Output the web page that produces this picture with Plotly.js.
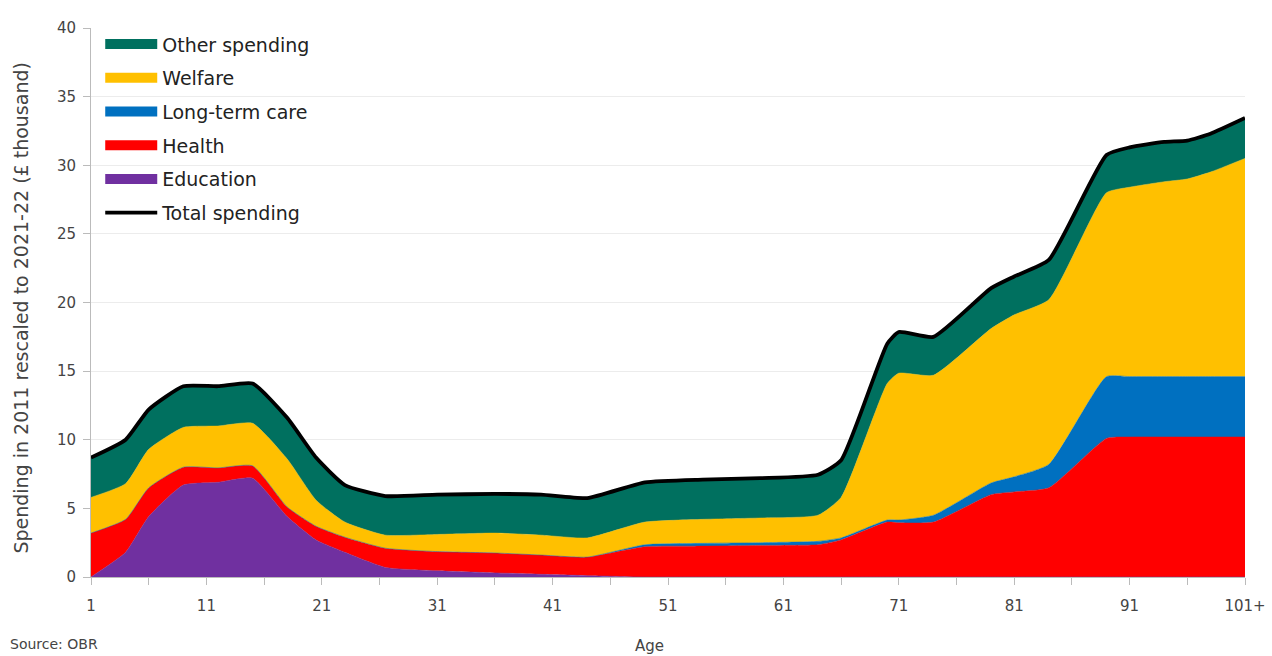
<!DOCTYPE html>
<html>
<head>
<meta charset="utf-8">
<script src="https://cdn.plot.ly/plotly-3.0.1.min.js"></script>
<style>html,body{margin:0;padding:0;background:#fff;}#chart{width:1272px;height:656px;}</style>
</head>
<body>
<div id="chart"></div>
<script>
const ages = [1, 4, 6, 9, 12, 15, 18, 20.5, 23, 26.5, 31, 36, 40, 44, 49, 54, 59, 64, 66, 70, 71, 74, 79, 81, 84, 89, 91, 94, 96, 98, 101];
const education = [0, 1.8, 4.4, 6.7, 6.9, 7.2, 4.4, 2.7, 1.8, 0.7, 0.45, 0.3, 0.2, 0.1, 0, 0, 0, 0, 0, 0, 0, 0, 0, 0, 0, 0, 0, 0, 0, 0, 0];
const health = [3.2, 2.4, 2.1, 1.3, 1.05, 0.9, 0.7, 1.0, 1.1, 1.4, 1.4, 1.45, 1.4, 1.35, 2.2, 2.25, 2.3, 2.35, 2.7, 4.0, 3.95, 4.0, 6.0, 6.2, 6.5, 10.1, 10.2, 10.2, 10.2, 10.2, 10.2];
const longTermCare = [0, 0, 0, 0, 0, 0, 0, 0, 0, 0, 0, 0, 0, 0, 0.15, 0.2, 0.2, 0.25, 0.15, 0.15, 0.2, 0.5, 0.85, 1.1, 1.7, 4.5, 4.4, 4.4, 4.4, 4.4, 4.4];
const welfare = [2.6, 2.6, 2.8, 2.9, 3.05, 3.1, 3.5, 1.9, 1.1, 0.95, 1.25, 1.45, 1.45, 1.4, 1.65, 1.75, 1.8, 1.9, 2.95, 9.95, 10.7, 10.2, 11.25, 11.8, 12.0, 13.4, 13.8, 14.2, 14.4, 14.9, 15.9];
const otherSpending = [2.9, 3.2, 2.9, 3.0, 2.9, 2.9, 3.0, 3.1, 2.7, 2.85, 2.9, 2.85, 2.95, 2.9, 2.9, 2.9, 2.9, 2.95, 2.7, 2.9, 3.0, 2.8, 2.95, 2.8, 2.9, 2.75, 2.9, 2.9, 2.8, 2.8, 2.95];
const totalSpending = [8.7, 10.0, 12.2, 13.9, 13.9, 14.1, 11.6, 8.7, 6.7, 5.9, 6.0, 6.05, 6.0, 5.75, 6.9, 7.1, 7.2, 7.45, 8.5, 17.0, 17.85, 17.5, 21.05, 21.9, 23.1, 30.75, 31.3, 31.7, 31.8, 32.3, 33.45];
const xTickVals = [1, 11, 21, 31, 41, 51, 61, 71, 81, 91, 101];
const xTickText = ["1", "11", "21", "31", "41", "51", "61", "71", "81", "91", "101+"];
const seriesNames = ['Education', 'Health', 'Long-term care', 'Welfare', 'Other spending'];
const seriesColors = ['#7030A0', '#FF0000', '#0070C0', '#FFC000', '#00705F'];
const legendRanks = [5, 4, 3, 2, 1];

const sm = 0.5;
const seriesData = [education, health, longTermCare, welfare, otherSpending];
const traces = [];
seriesData.forEach((y, i) => {
  traces.push({
    x: ages, y: y, name: seriesNames[i], type: 'scatter', mode: 'lines',
    stackgroup: 'one', fillcolor: seriesColors[i],
    line: {color: seriesColors[i], width: 0.5, shape: 'spline', smoothing: sm},
    showlegend: false, hoverinfo: 'skip'
  });
});
// legend-only entries (no data drawn) so that swatches are thick bars
seriesData.forEach((y, i) => {
  traces.push({
    x: [null], y: [null], name: seriesNames[i], type: 'scatter', mode: 'lines',
    line: {color: seriesColors[i], width: 10}, legendrank: legendRanks[i],
    legendgroup: 'g' + i, hoverinfo: 'skip'
  });
});
traces.push({x: ages, y: totalSpending, name: 'Total spending', type: 'scatter', mode: 'lines',
   line: {color: '#000000', width: 3.8, shape: 'spline', smoothing: sm}, legendrank: 6,
   legendgroup: 'gt', hoverinfo: 'skip'});

const layout = {
  width: 1272, height: 656,
  margin: {l: 91, r: 27, t: 28, b: 79},
  paper_bgcolor: '#ffffff', plot_bgcolor: '#ffffff',
  font: {family: '"DejaVu Sans", sans-serif', color: '#333'},
  showlegend: true,
  legend: {x: 0.008, y: 1.005, xanchor: 'left', yanchor: 'top', traceorder: 'grouped',
           font: {size: 19, color: '#222'}, bgcolor: 'rgba(0,0,0,0)', tracegroupgap: 6, itemwidth: 52},
  xaxis: {
    range: [1, 101], tickvals: xTickVals, ticktext: xTickText,
    showgrid: false, zeroline: false, showline: true, linecolor: '#bbbbbb', linewidth: 1,
    ticks: 'outside', ticklen: 7, tickcolor: '#bbbbbb', ticklabelstandoff: 8,
    minor: {tickvals: [6, 16, 26, 36, 46, 56, 66, 76, 86, 96], ticks: 'outside', ticklen: 7, tickcolor: '#bbbbbb'},
    tickfont: {size: 15, color: '#444'}
  },
  yaxis: {
    range: [0, 40], dtick: 5, tick0: 0,
    showgrid: true, gridcolor: '#ececec', gridwidth: 1, zeroline: false,
    showline: true, linecolor: '#bbbbbb', linewidth: 1,
    ticks: 'outside', ticklen: 7, tickcolor: '#bbbbbb', ticklabelstandoff: 4,
    tickfont: {size: 15, color: '#444'}
  },
  annotations: [
    {text: 'Age', xref: 'paper', yref: 'paper', x: 0.484, y: -0.126, xanchor: 'center', yanchor: 'middle',
     showarrow: false, font: {size: 15, color: '#444'}},
    {text: 'Spending in 2011 rescaled to 2021-22 (£ thousand)', xref: 'paper', yref: 'paper',
     x: -0.061, y: 0.49, xanchor: 'center', yanchor: 'middle', textangle: -90,
     showarrow: false, font: {size: 19, color: '#444'}},
    {text: 'Source: OBR', xref: 'paper', yref: 'paper', x: -0.072, y: -0.141, xanchor: 'left', yanchor: 'bottom',
     showarrow: false, font: {size: 14, color: '#444'}}
  ]
};
Plotly.newPlot('chart', traces, layout, {staticPlot: true, displayModeBar: false});
</script>
</body>
</html>
